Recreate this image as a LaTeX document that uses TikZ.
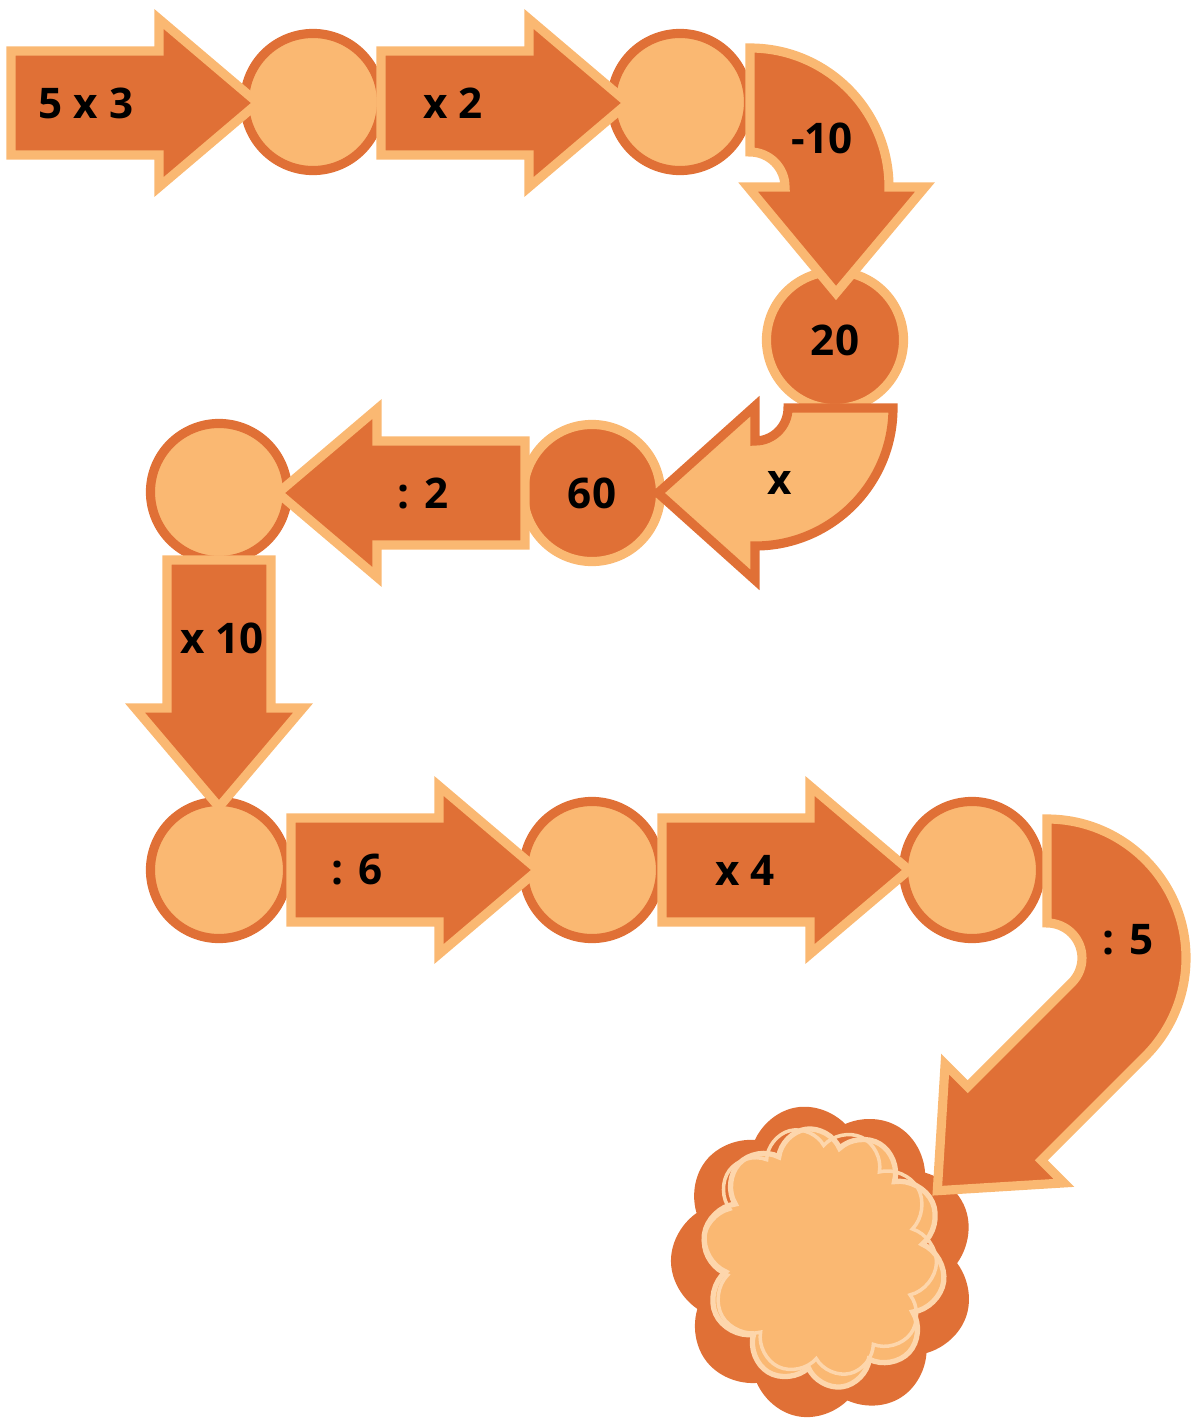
\documentclass[tikz,border=0pt]{standalone}
\usepackage{fontspec}
\setmainfont{Open Sans}
\usetikzlibrary{shapes.symbols}
\definecolor{rust}{RGB}{224,112,54}
\definecolor{peach}{RGB}{250,184,114}
\definecolor{cream}{RGB}{253,214,172}
\tikzset{
every node/.style={font=\bfseries\fontsize{12}{14}\selectfont}, % bold labels
stop/.style={circle, minimum size=1.37cm, inner sep=0pt, line width=2.6pt, draw=rust, fill=peach}, % empty stop on the path
numstop/.style={stop, draw=peach, fill=rust}, % stop that shows a number
darkarrow/.style={line width=2.6pt, draw=peach, fill=rust}, % dark block arrow
lightarrow/.style={line width=2.6pt, draw=rust, fill=peach}, % light block arrow
pics/straight/.style={code={
  \path[darkarrow] (0,-52) -- (148,-52) -- (148,-84) -- (247,0) -- (148,84) -- (148,52) -- (0,52) -- cycle;
}}, % straight block arrow, tail at the origin
}
\begin{document}
\begin{tikzpicture}[x=0.01cm, y=-0.01cm]
\useasboundingbox (0,0) rectangle (1192,1418);

% the goal
\node[cloud, cloud puffs=9, aspect=1, fill=rust, draw=rust, line width=9pt, line join=round, minimum width=2.72cm, minimum height=2.82cm, rotate=10] (goal) at (823,1262) {};
\node[cloud, cloud puffs=10, aspect=1, fill=peach, draw=cream, line width=1.5pt, minimum width=2.42cm, minimum height=2.6cm, rotate=8] (goalin) at (824,1258) {};
\node[cloud, cloud puffs=10, aspect=1, draw=cream, line width=1pt, minimum width=2.32cm, minimum height=2.5cm, rotate=14] (goalecho) at (820,1252) {};

% stops
\node[stop] (s1) at (313,102) {};
\node[stop] (s2) at (680,102) {};
\node[numstop] (s3) at (835,340) {20};
\node[numstop] (s4) at (592,493) {60};
\node[stop] (s5) at (219,492) {};
\node[stop] (s6) at (219,870) {};
\node[stop] (s7) at (592,870) {};
\node[stop] (s8) at (972,870) {};

% straight arrows
\pic at (11,103) {straight};
\pic at (381,103) {straight};
\pic[rotate=180] at (525,493) {straight};
\pic[rotate=-90] at (219,560) {straight};
\pic at (291,870) {straight};
\pic at (662,870) {straight};

% bent arrows
\path[darkarrow] (750,48) arc[start angle=-90, end angle=0, radius=139]
  -- (925,187) -- (836,293) -- (748,187) -- (785,187)
  arc[start angle=0, end angle=-90, radius=35] -- cycle;
\path[lightarrow] (893,408) arc[start angle=0, end angle=90, radius=138]
  -- (755,580) -- (658,493) -- (755,406) -- (755,441)
  arc[start angle=90, end angle=0, radius=33] -- cycle;
\path[darkarrow] (1047,819) arc[start angle=-90, end angle=45, radius=139]
  -- (1041.3,1160.3) -- (1063.9,1182.9) -- (937.3,1190.7) -- (945.1,1064.1) -- (967.7,1086.7) -- (1071.7,982.7)
  arc[start angle=45, end angle=-90, radius=35] -- cycle;

% labels
\node (l1) at (86,103) {5 x 3};
\node (l2) at (453,103) {x 2};
\node (l3) at (822,138) {-10};
\node (l4) at (780,483) {x};
\node (l5) at (423,493) {: 2};
\node (l6) at (222,638) {x 10};
\node (l7) at (357,870) {: 6};
\node (l8) at (745,870) {x 4};
\node (l9) at (1128,940) {: 5};
\end{tikzpicture}
\end{document}
